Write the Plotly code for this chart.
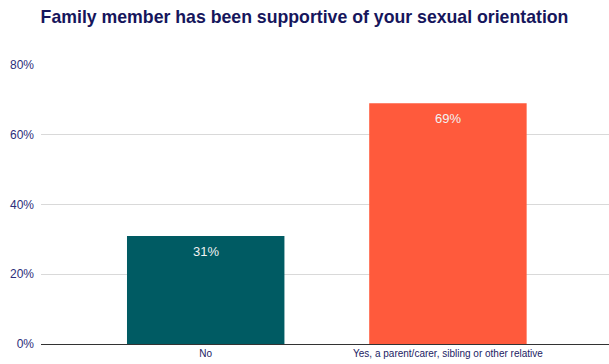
import plotly.graph_objects as go

categories = ["No", "Yes, a parent/carer, sibling or other relative"]
shares = [31, 69]
bar_colors = ["#005B63", "#FF5A3C"]
tick_values = [0, 20, 40, 60, 80]
tick_labels = ["0%", "20%", "40%", "60%", "80%"]

fig = go.Figure()
fig.add_trace(go.Bar(
    x=categories,
    y=shares,
    marker=dict(color=bar_colors, line=dict(width=0)),
    width=0.65,
    showlegend=False,
))

# value labels just under each bar top
for cat, val in zip(categories, shares):
    fig.add_annotation(
        x=cat, y=val, text=f"{val}%", showarrow=False,
        yanchor="top", yshift=-6,
        font=dict(family="Arial, Liberation Sans", size=13, color="#F2F2F2"),
    )

fig.update_layout(
    width=609, height=364,
    margin=dict(l=41, r=0, t=65, b=20),
    paper_bgcolor="white", plot_bgcolor="white",
    title=dict(
        text="<b>Family member has been supportive of your sexual orientation</b>",
        x=0.5, xanchor="center", y=0.953, yanchor="middle",
        font=dict(family="Arial, Liberation Sans", size=17.7, color="#16165C"),
    ),
    xaxis=dict(
        range=[-0.68, 1.665],
        showgrid=False, showline=False, zeroline=False,
        ticks="", ticklabelstandoff=2,
        tickfont=dict(family="Arial, Liberation Sans", size=10, color="#1B1B63"),
    ),
    yaxis=dict(
        range=[0, 80],
        tickvals=tick_values, ticktext=tick_labels,
        showgrid=True, gridcolor="#D9D9D9", gridwidth=1,
        zeroline=True, zerolinecolor="#333333", zerolinewidth=1,
        showline=False, ticks="", ticklabelstandoff=6,
        tickfont=dict(family="Arial, Liberation Sans", size=12, color="#2E2E7A"),
    ),
    bargap=0.3,
)

fig.write_html("out.html")
